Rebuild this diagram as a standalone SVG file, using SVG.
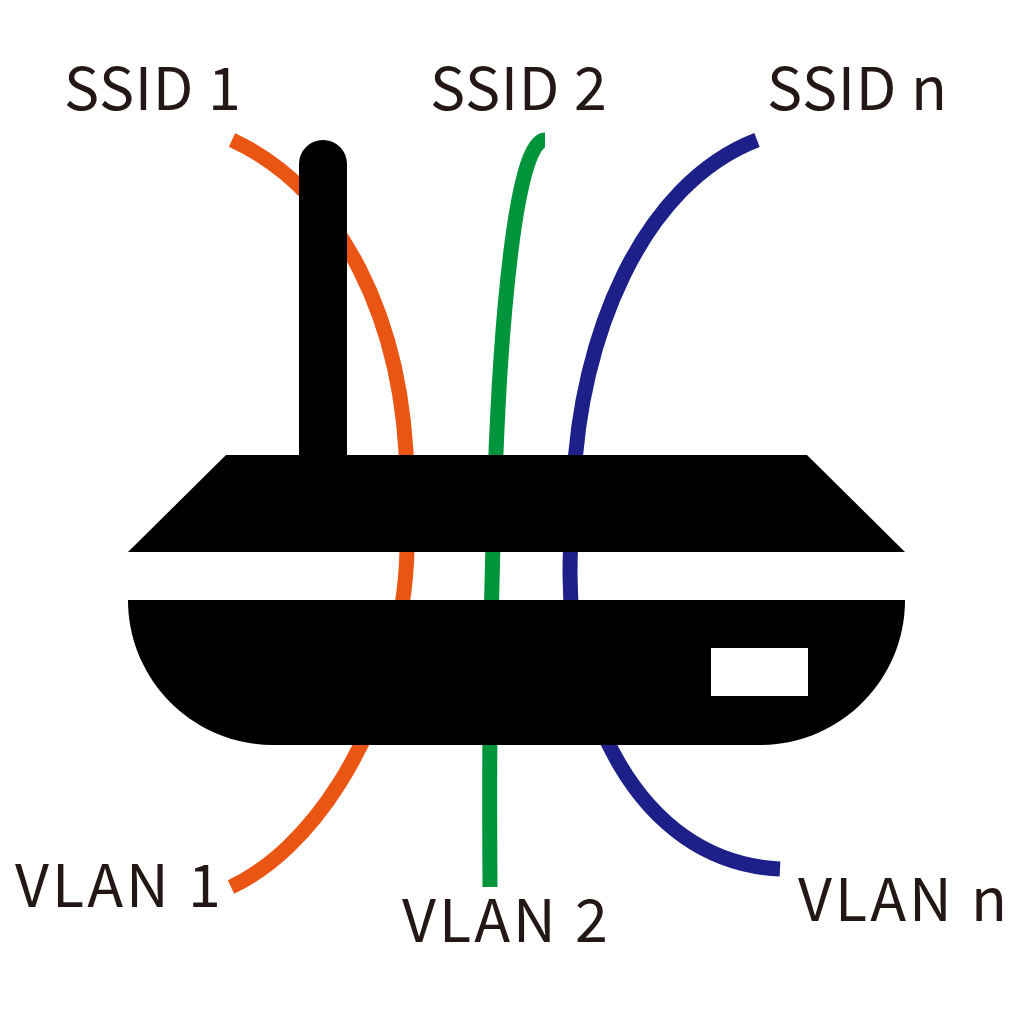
<svg xmlns="http://www.w3.org/2000/svg" width="1024" height="1024" viewBox="0 0 1024 1024">
<style>
.w{fill:none;stroke-width:15}
.t{font-family:"Noto Sans CJK JP","Noto Sans",sans-serif;font-size:59px;fill:#231815}
.s{letter-spacing:.7px}
.v{letter-spacing:3px}
.b{fill:#000}
</style>
<rect width="1024" height="1024" fill="#fff"/>
<g id="connectors">
<path class="w" stroke="#ea5514" d="M232 140C340 190 405 320 407 480C408 530 408 570 402 605C385 740 310 850 231 887"/>
<path class="w" stroke="#00953b" d="M545 140C515 140 500 330 495 480C490 620 489 750 490 887"/>
<path class="w" stroke="#1d2088" d="M757 140C640 185 580 340 574 480C572 510 570 545 570 575C570 695 632 862 780 869"/>
</g>
<g id="router">
<path class="b" d="M299 460V164a24 24 0 0 1 48 0V460Z"/>
<path class="b" d="M226 455H807L905 552H128Z"/>
<path class="b" d="M128 600H905C905 680 840 745 760 745H273C193 745 128 680 128 600Z"/>
<rect x="711" y="648" width="97" height="48" fill="#fff"/>
</g>
<g id="labels">
<text class="t s" x="64" y="110">SSID 1</text>
<text class="t s" x="430" y="110">SSID 2</text>
<text class="t s" x="767" y="110">SSID n</text>
<text class="t v" x="15" y="907">VLAN 1</text>
<text class="t v" x="402" y="942">VLAN 2</text>
<text class="t v" x="798" y="921">VLAN n</text>
</g>
</svg>
